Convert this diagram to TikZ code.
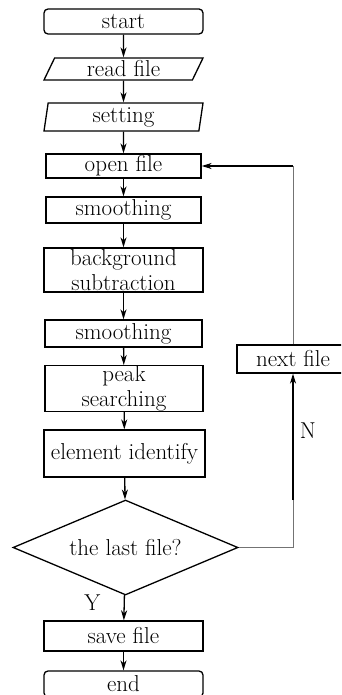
\documentclass[tikz,border=0pt]{standalone}
\usepackage{tikz}
\usetikzlibrary{arrows.meta,shapes.geometric,positioning}
\tikzset{
  every picture/.style={line width=1.3pt},
  sbox/.style={draw, rectangle, inner sep=0pt, align=center,
               minimum width=159pt, font=\fontsize{23}{25}\selectfont},
  sterm/.style={sbox, rounded corners=4pt},
  sio/.style={sbox, trapezium, trapezium stretches body=true,
              trapezium left angle=#1, trapezium right angle=180-#1},
  sdecide/.style={draw, diamond, aspect=2.37, inner sep=0pt, minimum width=225pt,
                  minimum height=95pt, font=\fontsize{23}{25}\selectfont},
  sarrow/.style={-{Stealth[length=10pt,width=6pt,inset=3pt]}},
  sback/.style={draw=black!55, line width=1pt},
  slabel/.style={font=\fontsize{23}{25}\selectfont},
}

\begin{document}
\begin{tikzpicture}[x=1pt,y=-1pt]
\useasboundingbox (0,0) rectangle (341,695);
\clip (0,0) rectangle (341,695);
\node[sterm, minimum height=25pt] (start) at (123.5,21.5) {start};
\node[sio=57, minimum height=22pt] (read) at (123.5,69) {read file};
\node[sio=78, minimum height=28pt] (setting) at (123.5,117) {setting};
\node[sbox, minimum width=155pt, minimum height=24pt] (open) at (123.5,166) {open file};
\node[sbox, minimum width=155pt, minimum height=26pt] (smooth1) at (123.5,210) {smoothing};
\node[sbox, minimum height=44pt] (bgsub) at (123.5,270) {background\\subtraction};
\node[sbox, minimum width=157pt, minimum height=27pt] (smooth2) at (123.5,333.5) {smoothing};
\node[sbox, minimum width=158pt, minimum height=43pt] (peak) at (124,388.5) {peak\\searching};
\node[sbox, minimum width=161pt, minimum height=47pt] (ident) at (124.5,453.5) {element identify};
\node[sdecide] (last) at (125.5,547.5) {the last file?};
\node[sbox, minimum height=30pt] (save) at (123.5,636) {save file};
\node[sterm, minimum height=26pt] (finish) at (123.5,684) {end};
\node[sbox, minimum width=112pt, minimum height=28pt] (next) at (293,359) {next file};
\coordinate (corner) at (293,166);
\draw[sarrow] (start) -- (read);
\draw[sarrow] (read) -- (setting);
\draw[sarrow] (setting) -- (open);
\draw[sarrow] (open) -- (smooth1);
\draw[sarrow] (smooth1) -- (bgsub);
\draw[sarrow] (bgsub) -- (smooth2);
\draw[sarrow] (smooth2) -- (peak);
\draw[sarrow] (peak) -- (ident);
\draw[sarrow] (ident) -- (last);
\draw[sarrow] (last) -- node[slabel, left=20pt, pos=0.3] {Y} (save);
\draw[sarrow] (save) -- (finish);
\draw[sback] (last.east) -| (293,500);
\draw[sarrow] (293,500) -- node[slabel, right=3pt, pos=0.55] {N} (next);
\draw[sback] (next) -- (corner);
\draw[sarrow] (corner) -- (open);
\end{tikzpicture}
\end{document}
